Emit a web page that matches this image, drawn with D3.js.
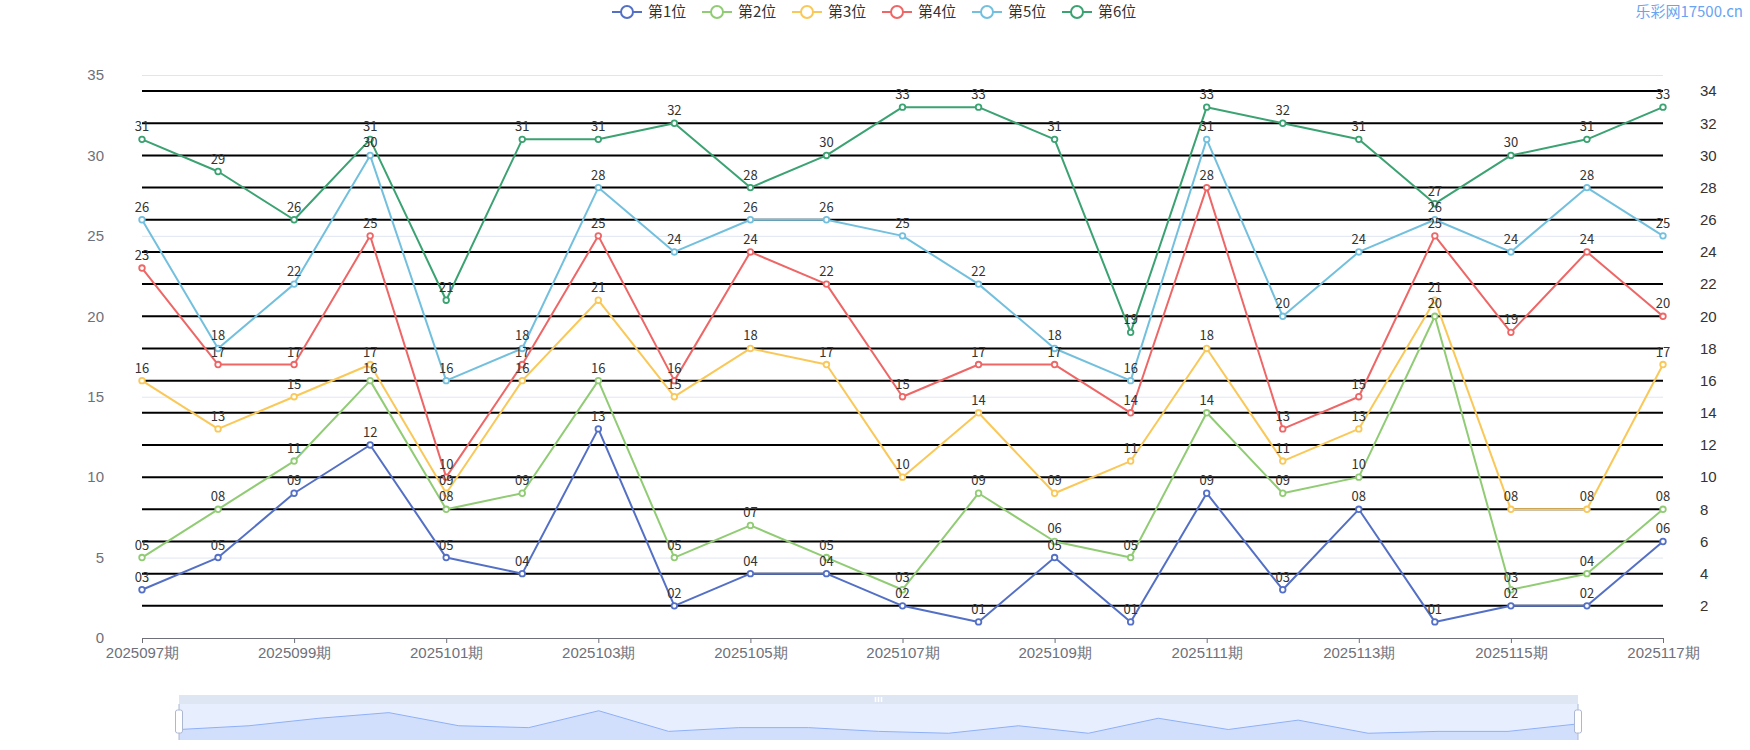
<!DOCTYPE html>
<html><head><meta charset="utf-8">
<script src="https://cdn.jsdelivr.net/npm/d3@7/dist/d3.min.js"></script>
<style>
body{margin:0;background:#fff;}
svg{display:block;font-family:"Microsoft YaHei","Noto Sans CJK SC",sans-serif;}
</style>
</head><body>
<svg id="chart" width="1750" height="750"></svg>
<script>
const categories = ["2025097期","2025098期","2025099期","2025100期","2025101期","2025102期","2025103期","2025104期","2025105期","2025106期","2025107期","2025108期","2025109期","2025110期","2025111期","2025112期","2025113期","2025114期","2025115期","2025116期","2025117期"];
const seriesNames = ["第1位","第2位","第3位","第4位","第5位","第6位"];
const pos1 = [3,5,9,12,5,4,13,2,4,4,2,1,5,1,9,3,8,1,2,2,6];
const pos2 = [5,8,11,16,8,9,16,5,7,5,3,9,6,5,14,9,10,20,3,4,8];
const pos3 = [16,13,15,17,9,16,21,15,18,17,10,14,9,11,18,11,13,21,8,8,17];
const pos4 = [23,17,17,25,10,17,25,16,24,22,15,17,17,14,28,13,15,25,19,24,20];
const pos5 = [26,18,22,30,16,18,28,24,26,26,25,22,18,16,31,20,24,26,24,28,25];
const pos6 = [31,29,26,31,21,31,31,32,28,30,33,33,31,19,33,32,31,27,30,31,33];
const leftTicks = [0,5,10,15,20,25,30,35];
const rightTicks = [2,4,6,8,10,12,14,16,18,20,22,24,26,28,30,32,34];
const xTickLabels = categories.filter((d,i)=>i%2===0);
const colors = ["#5470c6","#91cc75","#fac858","#ee6666","#73c0de","#3ba272"];
const allSeries = [pos1,pos2,pos3,pos4,pos5,pos6];

const svg = d3.select("#chart");
const L = 142, R = 1663, T = 75, B = 638;

const x = d3.scalePoint().domain(categories).range([L, R]);
const y = d3.scaleLinear().domain([0,35]).range([B, T]);
const yR = d3.scaleLinear().domain([0,35]).range([B, T]);

// left grid lines
svg.append("g").selectAll("line").data(leftTicks.filter(d=>d>0)).join("line")
  .attr("x1", L).attr("x2", R).attr("y1", d=>y(d)+0.5).attr("y2", d=>y(d)+0.5)
  .attr("stroke", "#E0E6F1").attr("stroke-width", 1);

// right axis black split lines
svg.append("g").selectAll("line").data(rightTicks).join("line")
  .attr("x1", L).attr("x2", R).attr("y1", d=>yR(d)).attr("y2", d=>yR(d))
  .attr("stroke", "#000").attr("stroke-width", 2);

// left axis labels
const gl = svg.append("g").attr("transform", `translate(${L},0)`)
  .call(d3.axisLeft(y).tickValues(leftTicks).tickSize(0).tickPadding(38));
gl.select(".domain").remove();
gl.selectAll("text").attr("fill","#6E7079").attr("font-size",15).attr("font-family",null);

// right axis labels
const gr = svg.append("g").attr("transform", `translate(${R},0)`)
  .call(d3.axisRight(yR).tickValues(rightTicks).tickSize(0).tickPadding(37));
gr.select(".domain").remove();
gr.selectAll("text").attr("fill","#333").attr("font-size",15).attr("font-family",null);

// x axis
const gx = svg.append("g").attr("transform", `translate(0,${B})`)
  .call(d3.axisBottom(x).tickValues(xTickLabels).tickSize(5).tickPadding(4).tickSizeOuter(0));
gx.select(".domain").attr("stroke","#6E7079").attr("stroke-width",1).attr("d", `M${L},0.5H${R}`);
gx.selectAll(".tick line").attr("stroke","#6E7079");
gx.selectAll("text").attr("fill","#6E7079").attr("font-size",15).attr("font-family",null);

// series lines
const line = d3.line().x((d,i)=>x(categories[i])).y(d=>y(d));
allSeries.forEach((s,k)=>{
  const g = svg.append("g");
  g.append("path").datum(s).attr("d", line).attr("fill","none")
    .attr("stroke", colors[k]).attr("stroke-width", 2).attr("stroke-linejoin","bevel");
  g.selectAll("circle").data(s).join("circle")
    .attr("cx",(d,i)=>x(categories[i])).attr("cy", d=>y(d)).attr("r", 2.8)
    .attr("fill","#fff").attr("stroke", colors[k]).attr("stroke-width", 1.8);
});
// labels
allSeries.forEach((s,k)=>{
  svg.append("g").selectAll("text").data(s).join("text")
    .attr("x",(d,i)=>x(categories[i])).attr("y", d=>y(d)-8)
    .attr("text-anchor","middle").attr("font-size",13).attr("fill","#333")
    .text(d=> d<10 ? "0"+d : ""+d);
});

// legend
const lg = svg.append("g");
seriesNames.forEach((n,i)=>{
  const x0 = 612 + i*90, yc = 12;
  const g = lg.append("g");
  g.append("line").attr("x1",x0).attr("x2",x0+30).attr("y1",yc).attr("y2",yc)
    .attr("stroke",colors[i]).attr("stroke-width",2);
  g.append("circle").attr("cx",x0+15).attr("cy",yc).attr("r",6)
    .attr("fill","#fff").attr("stroke",colors[i]).attr("stroke-width",2);
  g.append("text").attr("x",x0+36).attr("y",yc).attr("dy","0.36em")
    .attr("font-size",15).attr("fill","#333").text(n);
});

// watermark
svg.append("text").attr("x",1743).attr("y",12).attr("dy","0.36em").attr("text-anchor","end")
  .attr("font-size",15).attr("fill","#6aa3f2").text("乐彩网17500.cn");

// data zoom slider
const zL = 179, zR = 1578, zTop = 695, zMid = 704, zBot = 740;
const zx = d3.scalePoint().domain(categories).range([zL, zR]);
const ext = d3.extent(pos1); const off = (ext[1]-ext[0])*0.3;
const zy = d3.scaleLinear().domain([ext[0]-off, ext[1]+off]).range([zBot, zMid]);
const dz = svg.append("g");
dz.append("rect").attr("x",zL).attr("y",zTop).attr("width",zR-zL).attr("height",zMid-zTop)
  .attr("fill","#D2DBEE").attr("fill-opacity",0.7);
dz.append("rect").attr("x",zL).attr("y",zMid).attr("width",zR-zL).attr("height",zBot-zMid)
  .attr("fill","rgb(135,175,255)").attr("fill-opacity",0.2);
const area = d3.area().x((d,i)=>zx(categories[i])).y0(zBot).y1(d=>zy(d));
dz.append("path").datum(pos1).attr("d",area).attr("fill","#8fb0f7").attr("fill-opacity",0.25);
dz.append("path").datum(pos1).attr("d",d3.line().x((d,i)=>zx(categories[i])).y(d=>zy(d)))
  .attr("fill","none").attr("stroke","#8fb0f7").attr("stroke-width",1);
// move handle icon
const mc = (zL+zR)/2;
[-3,0,3].forEach(dx=>dz.append("rect").attr("x",mc+dx-0.75).attr("y",697).attr("width",1.5).attr("height",5).attr("fill","#fff"));
[zL,zR].forEach(hx=>{
  dz.append("line").attr("x1",hx).attr("x2",hx).attr("y1",zMid).attr("y2",zBot)
    .attr("stroke","#ACB8D1").attr("stroke-width",1);
  dz.append("rect").attr("x",hx-3.5).attr("y",710).attr("width",7).attr("height",23).attr("rx",2)
    .attr("fill","#fff").attr("stroke","#ACB8D1").attr("stroke-width",1);
});
</script>
</body></html>
